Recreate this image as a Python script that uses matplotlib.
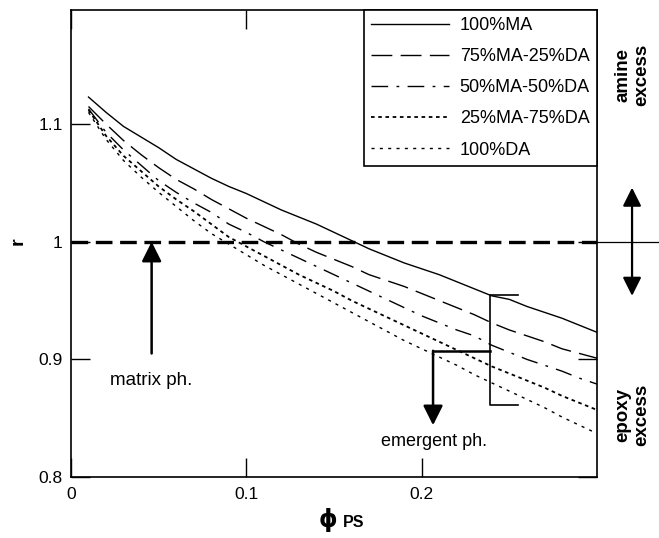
import matplotlib
matplotlib.use("Agg")
import matplotlib.pyplot as plt

plt.rcParams['font.family'] = ['Liberation Sans', 'DejaVu Sans']
plt.rcParams['lines.scale_dashes'] = False

# ---- data ----
phi = [0.01, 0.02, 0.03, 0.04, 0.05, 0.06, 0.07, 0.08, 0.09, 0.10,
       0.11, 0.12, 0.13, 0.14, 0.15, 0.16, 0.17, 0.18, 0.19, 0.20,
       0.21, 0.22, 0.23, 0.24, 0.25, 0.26, 0.27, 0.28, 0.29, 0.30]
r_100MA = [1.123, 1.110, 1.098, 1.089, 1.080, 1.070, 1.062, 1.054, 1.047, 1.041,
           1.034, 1.027, 1.021, 1.015, 1.008, 1.001, 0.994, 0.988, 0.982, 0.977,
           0.972, 0.966, 0.960, 0.954, 0.951, 0.945, 0.940, 0.935, 0.929, 0.923]
r_75MA = [1.115, 1.100, 1.086, 1.074, 1.063, 1.053, 1.045, 1.036, 1.028, 1.020,
          1.013, 1.006, 0.998, 0.991, 0.985, 0.979, 0.972, 0.967, 0.962, 0.956,
          0.950, 0.944, 0.938, 0.931, 0.925, 0.920, 0.915, 0.909, 0.905, 0.901]
r_50MA = [1.113, 1.093, 1.078, 1.065, 1.052, 1.042, 1.033, 1.025, 1.015, 1.008,
          1.000, 0.993, 0.986, 0.979, 0.972, 0.965, 0.958, 0.951, 0.944, 0.937,
          0.931, 0.925, 0.920, 0.912, 0.906, 0.900, 0.895, 0.890, 0.884, 0.879]
r_25MA = [1.112, 1.090, 1.073, 1.060, 1.047, 1.036, 1.026, 1.015, 1.004, 0.996,
          0.988, 0.980, 0.972, 0.965, 0.958, 0.950, 0.943, 0.936, 0.929, 0.922,
          0.915, 0.908, 0.901, 0.894, 0.888, 0.882, 0.876, 0.869, 0.863, 0.857]
r_100DA = [1.110, 1.087, 1.069, 1.055, 1.042, 1.030, 1.018, 1.007, 0.998, 0.989,
           0.980, 0.972, 0.964, 0.956, 0.948, 0.940, 0.932, 0.924, 0.916, 0.909,
           0.902, 0.895, 0.887, 0.880, 0.873, 0.866, 0.859, 0.851, 0.844, 0.837]
labels = ['100%MA', '75%MA-25%DA', '50%MA-50%DA', '25%MA-75%DA', '100%DA']
xticks = [0, 0.1, 0.2]
xtick_labels = ['0', '0.1', '0.2']
yticks = [0.8, 0.9, 1.0, 1.1]
ytick_labels = ['0.8', '0.9', '1', '1.1']

fig = plt.figure(figsize=(6.59, 5.38), dpi=100)
ax = fig.add_axes([0.1077, 0.1134, 0.7982, 0.868])

series = [r_100MA, r_75MA, r_50MA, r_25MA, r_100DA]
styles = [
    dict(linestyle='-', lw=1.0),
    dict(linestyle=(0, (15, 6)), lw=1.0),
    dict(linestyle=(0, (12, 6, 2, 6)), lw=1.0),
    dict(linestyle=(0, (2.6, 2.6)), lw=1.3),
    dict(linestyle=(0, (2.2, 3.8)), lw=1.0),
]
for s, st, lab in zip(series, styles, labels):
    ax.plot(phi, s, color='black', label=lab, **st)

# r = 1 reference line
ax.axhline(1.0, color='black', lw=2.4, linestyle=(0, (12, 5.5)))
ax.plot([0.3, 0.335], [1.0, 1.0], color='black', lw=0.9, clip_on=False)

ax.set_xlim(0, 0.3)
ax.set_ylim(0.8, 1.197)
ax.set_xticks(xticks)
ax.set_xticklabels(xtick_labels)
ax.set_yticks(yticks)
ax.set_yticklabels(ytick_labels)
ax.tick_params(direction='in', length=13.5, width=1.0, labelsize=12.5,
               top=True, right=True)
ax.tick_params(axis='x', pad=7)
ax.tick_params(axis='y', pad=6)
for sp in ax.spines.values():
    sp.set_linewidth(1.2)

fig.text(18 / 659, 1 - 241 / 538, 'r', fontsize=14, fontweight='bold',
         rotation=90, ha='center', va='center')
fig.text(0.512, 0.02, 'ϕ', fontsize=17, fontweight='bold', ha='right',
         va='baseline', family='DejaVu Sans')
fig.text(0.521, 0.02, 'PS', fontsize=11.5, fontweight='bold', ha='left',
         va='baseline')

# matrix phase arrow
ax.annotate('', xy=(0.046, 1.0), xytext=(0.046, 0.905),
            arrowprops=dict(arrowstyle='-|>', lw=1.8, color='black',
                            mutation_scale=30, shrinkA=0, shrinkB=0))
ax.text(0.046, 0.882, 'matrix ph.', fontsize=13.5, ha='center', va='center')

# emergent phase bracket and arrow
ax.plot([0.255, 0.239, 0.239, 0.255], [0.9546, 0.9546, 0.861, 0.861],
        color='black', lw=1.2)
ax.plot([0.239, 0.2065], [0.9073, 0.9073], color='black', lw=1.8)
ax.annotate('', xy=(0.2065, 0.844), xytext=(0.2065, 0.9073),
            arrowprops=dict(arrowstyle='-|>', lw=1.8, color='black',
                            mutation_scale=30, shrinkA=0, shrinkB=0))
ax.text(0.207, 0.830, 'emergent ph.', fontsize=13, ha='center', va='center')

# right side annotations
ax.annotate('', xy=(0.32, 1.046), xytext=(0.32, 0.954),
            arrowprops=dict(arrowstyle='<|-|>', lw=1.6, color='black',
                            mutation_scale=28, shrinkA=0, shrinkB=0),
            annotation_clip=False)
fig.text(0.959, 0.86, 'amine\nexcess', rotation=90, fontsize=13.5,
         fontweight='bold', ha='center', va='center', linespacing=1.12)
fig.text(0.959, 0.229, 'epoxy\nexcess', rotation=90, fontsize=13.5,
         fontweight='bold', ha='center', va='center', linespacing=1.12)

leg = ax.legend(loc='upper right', bbox_to_anchor=(1.0, 1.0), fontsize=13,
                frameon=True, fancybox=False, framealpha=1, edgecolor='black',
                borderaxespad=0, handlelength=4.3, handletextpad=0.6,
                labelspacing=0.78, borderpad=0.4)
leg.get_frame().set_linewidth(1.2)

fig.savefig('out.png', dpi=100)
